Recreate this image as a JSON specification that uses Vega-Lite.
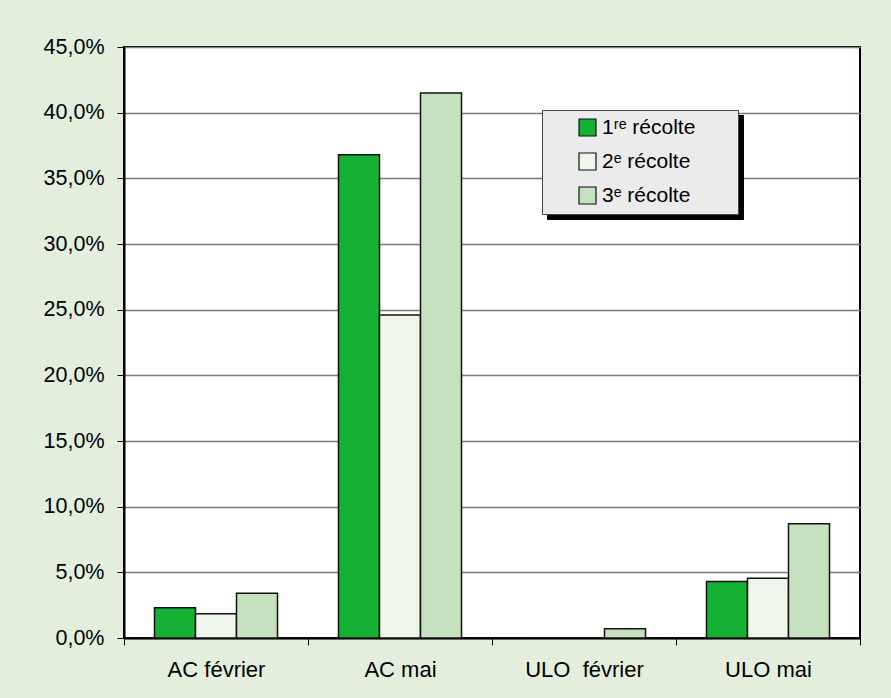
{
  "$schema": "https://vega.github.io/schema/vega-lite/v6.json",
  "autosize": {"type": "none"},
  "width": 736,
  "height": 591,
  "padding": {"left": 124, "top": 47, "right": 31, "bottom": 60},
  "background": "#E3EEDC",
  "data": {
    "values": [
      {"site": "AC février", "serie": "1ʳᵉ récolte", "valeur": 2.3},
      {"site": "AC février", "serie": "2ᵉ récolte", "valeur": 1.85},
      {"site": "AC février", "serie": "3ᵉ récolte", "valeur": 3.4},
      {"site": "AC mai", "serie": "1ʳᵉ récolte", "valeur": 36.8},
      {"site": "AC mai", "serie": "2ᵉ récolte", "valeur": 24.6},
      {"site": "AC mai", "serie": "3ᵉ récolte", "valeur": 41.5},
      {"site": "ULO  février", "serie": "1ʳᵉ récolte", "valeur": 0},
      {"site": "ULO  février", "serie": "2ᵉ récolte", "valeur": 0},
      {"site": "ULO  février", "serie": "3ᵉ récolte", "valeur": 0.7},
      {"site": "ULO mai", "serie": "1ʳᵉ récolte", "valeur": 4.3},
      {"site": "ULO mai", "serie": "2ᵉ récolte", "valeur": 4.55},
      {"site": "ULO mai", "serie": "3ᵉ récolte", "valeur": 8.7}
    ]
  },
  "mark": {"type": "bar", "stroke": "#111", "strokeWidth": 1.5},
  "encoding": {
    "x": {
      "field": "site",
      "type": "nominal",
      "sort": ["AC février", "AC mai", "ULO  février", "ULO mai"],
      "scale": {"paddingInner": 0, "paddingOuter": 0},
      "axis": {
        "title": null,
        "labelAngle": 0,
        "labelExpr": "replace(datum.label, '  ', '\u00a0 ')",
        "tickBand": "extent",
        "tickSize": 7,
        "tickColor": "#000",
        "tickWidth": 1,
        "domainColor": "#000",
        "domainWidth": 2,
        "labelPadding": 14,
        "labelFontSize": 22,
        "grid": false
      }
    },
    "xOffset": {
      "field": "serie",
      "type": "nominal",
      "sort": ["1ʳᵉ récolte", "2ᵉ récolte", "3ᵉ récolte"],
      "scale": {"paddingInner": 0, "paddingOuter": 0.744}
    },
    "y": {
      "field": "valeur",
      "type": "quantitative",
      "scale": {"domain": [0, 45], "nice": false},
      "axis": {
        "title": null,
        "values": [0, 5, 10, 15, 20, 25, 30, 35, 40, 45],
        "labelExpr": "replace(format(datum.value, '.1f'), '.', ',') + '%'",
        "grid": true,
        "gridColor": "#7a7a7a",
        "gridWidth": 1.5,
        "tickSize": 7,
        "tickColor": "#000",
        "tickWidth": 1,
        "domainColor": "#000",
        "domainWidth": 2,
        "labelPadding": 13,
        "labelFontSize": 21.5
      }
    },
    "color": {
      "field": "serie",
      "type": "nominal",
      "scale": {
        "domain": ["1ʳᵉ récolte", "2ᵉ récolte", "3ᵉ récolte"],
        "range": ["#15B134", "#EEF5EA", "#C6E1BF"]
      },
      "legend": {
        "title": null,
        "orient": "none",
        "legendX": 418,
        "legendY": 63,
        "zindex": 2,
        "fillColor": "#EBEBEB",
        "strokeColor": "#444",
        "symbolStrokeColor": "#111",
        "symbolStrokeWidth": 1.2,
        "rowPadding": 11,
        "labelExpr": "datum.label + '\u00a0\u00a0\u00a0\u00a0\u00a0\u00a0\u200b'"
      }
    },
    "strokeDash": {
      "field": "serie",
      "type": "nominal",
      "scale": {
        "domain": ["3ᵉ récolte", "2ᵉ récolte", "1ʳᵉ récolte"],
        "range": [[1, 0], [1, 0], [1, 0]]
      },
      "legend": {
        "title": null,
        "orient": "none",
        "legendX": 423,
        "legendY": 68,
        "zindex": 1,
        "fillColor": "#000",
        "strokeColor": "#000",
        "symbolFillColor": "#000",
        "symbolStrokeColor": "#000",
        "symbolOffset": 157,
        "rowPadding": 11,
        "labelColor": "#000",
        "labelOpacity": 0,
        "labelExpr": "''"
      }
    }
  },
  "config": {
    "font": "Liberation Sans",
    "view": {"stroke": "#000", "strokeWidth": 2, "fill": "#ffffff"},
    "axis": {"labelFont": "Liberation Sans", "labelFontSize": 21, "labelColor": "#000"},
    "legend": {
      "labelFont": "Liberation Sans",
      "labelFontSize": 21,
      "labelColor": "#000",
      "symbolType": "square",
      "symbolSize": 289,
      "symbolOffset": 28,
      "labelOffset": 4,
      "padding": 7,
      "rowPadding": 11
    }
  }
}
